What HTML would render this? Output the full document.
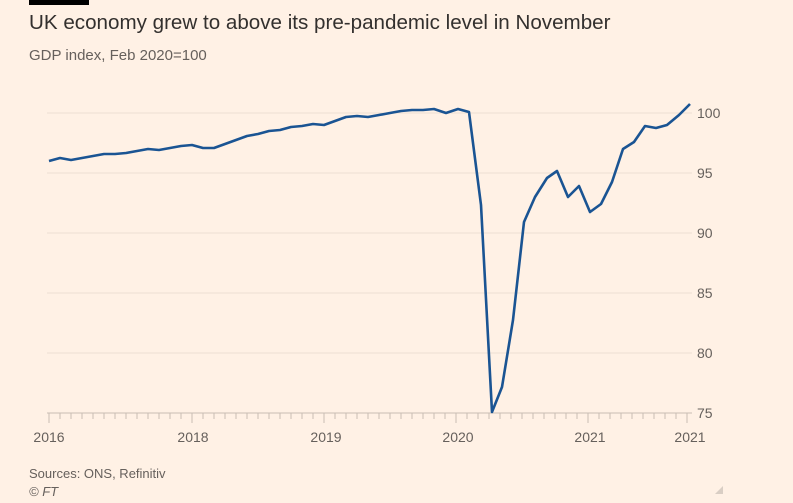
<!DOCTYPE html>
<html><head><style>
html,body{margin:0;padding:0;background:#fff1e5;}
body{width:793px;height:503px;position:relative;overflow:hidden;font-family:"Liberation Sans",sans-serif;}
.t{position:absolute;white-space:nowrap;}
</style></head><body>
<div style="position:absolute;left:29px;top:0;width:60px;height:5px;background:#000"></div>
<div class="t" style="left:29px;top:11px;font-size:20.6px;color:#33302e">UK economy grew to above its pre-pandemic level in November</div>
<div class="t" style="left:29px;top:47px;font-size:15px;color:#66605c">GDP index, Feb 2020=100</div>
<svg width="793" height="503" style="position:absolute;left:0;top:0">
<g stroke="#ecdfd3" stroke-width="1">
<line x1="47" x2="692" y1="113" y2="113"/><line x1="47" x2="692" y1="173" y2="173"/>
<line x1="47" x2="692" y1="233" y2="233"/><line x1="47" x2="692" y1="293" y2="293"/>
<line x1="47" x2="692" y1="353" y2="353"/>
</g>
<line x1="47" x2="692" y1="413" y2="413" stroke="#c9bdb3"/>
<g stroke="#c9bdb3" id="ticks"></g>
<g font-size="14" fill="#66605c" font-family="Liberation Sans,sans-serif">
<text x="697" y="118">100</text><text x="697" y="178">95</text><text x="697" y="238">90</text>
<text x="697" y="298">85</text><text x="697" y="358">80</text><text x="697" y="418">75</text>
<text x="49" y="442" text-anchor="middle">2016</text><text x="193" y="442" text-anchor="middle">2018</text>
<text x="326" y="442" text-anchor="middle">2019</text><text x="458" y="442" text-anchor="middle">2020</text>
<text x="590" y="442" text-anchor="middle">2021</text><text x="690" y="442" text-anchor="middle">2021</text>
</g>
<polyline fill="none" stroke="#1a5493" stroke-width="2.6" stroke-linejoin="round" points="49,161 60,158 71,160 82,158 93,156 104,154 115,154 126,153 137,151 148,149 159,150 170,148 181,146 192,145 203,148 214,148 225,144 236,140 247,136 258,134 269,131 280,130 291,127 302,126 313,124 324,125 335,121 346,117 357,116 368,117 379,115 390,113 401,111 412,110 423,110 434,109 446,113 458,109 469,112 481,205 492,412 502,387 513,320 524,222 535,197 547,178 557,171 568,197 579,186 590,212 601,204 612,182 623,149 634,142 645,126 656,128 667,125 679,115 690,104"/>
<polygon points="723,494 723,486 715,494" fill="#d9cec4"/>
</svg>
<div class="t" style="left:29px;top:466px;font-size:13px;color:#66605c">Sources: ONS, Refinitiv</div>
<div class="t" style="left:29px;top:484px;font-size:13px;color:#66605c;font-style:italic">© FT</div>
<script>
var g=document.getElementById('ticks'),s='';
for(var x=49;x<=692;x+=11){var big=[49,193,326,458,590,690].some(function(v){return Math.abs(v-x)<6});s+='<line x1="'+x+'" x2="'+x+'" y1="413" y2="'+(big?423:419)+'"/>';}
g.innerHTML=s;
</script>
</body></html>
